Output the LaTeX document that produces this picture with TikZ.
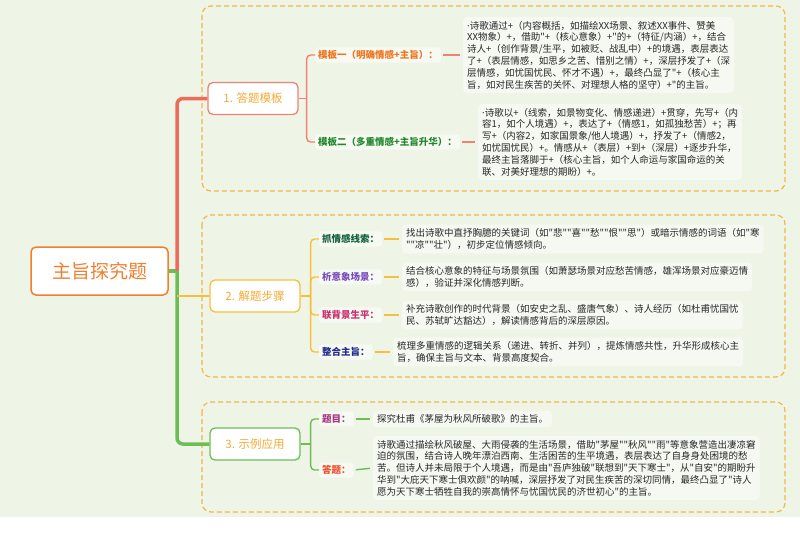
\documentclass[tikz,border=0pt]{standalone}
\usepackage{fontspec}
\setmainfont{Noto Sans CJK SC}[Ligatures=TeXOff]
\newfontfamily\latinfont{Noto Sans}
\usepackage{tikz}
\usetikzlibrary{positioning,calc}
\definecolor{paper}{RGB}{238,245,230}
\definecolor{rust}{RGB}{240,128,48}
\definecolor{coral}{RGB}{240,106,90}
\definecolor{salmon}{RGB}{240,130,115}
\definecolor{sun}{RGB}{246,192,62}
\definecolor{leaf}{RGB}{108,190,84}
\definecolor{gold}{RGB}{245,170,52}
\definecolor{frameor}{RGB}{245,182,72}
\definecolor{ink}{RGB}{40,40,40}
\definecolor{tagorange}{RGB}{240,115,30}
\definecolor{taggreen}{RGB}{35,135,45}
\definecolor{tagteal}{RGB}{20,95,60}
\definecolor{tagpurple}{RGB}{120,75,190}
\definecolor{tagpink}{RGB}{205,45,110}
\definecolor{tagnavy}{RGB}{35,45,140}
\definecolor{tagplum}{RGB}{165,55,130}
\definecolor{tagred}{RGB}{240,75,40}
\newcommand\notefont{\fontsize{9.5}{11.8}\selectfont}
\newcommand\dotmark{{\latinfont ·}}
\tikzset{
  rootbox/.style={draw=rust,line width=1.5pt,fill=white,rounded corners=5pt,
    minimum width=137pt,minimum height=48pt,text=rust,font=\fontsize{19}{22}\selectfont},
  branchbox/.style={draw=#1,line width=1.3pt,fill=white,rounded corners=5pt,
    minimum width=90pt,minimum height=32pt,text=gold,font=\fontsize{11.5}{14}\selectfont},
  tag/.style={fill=white,fill opacity=0.5,text opacity=1,rounded corners=3pt,inner sep=3pt,
    anchor=west,text=#1,font=\notefont\bfseries},
  note/.style={fill=white,fill opacity=0.45,text opacity=1,rounded corners=4pt,inner sep=4pt,
    anchor=west,align=left,text=ink,font=\notefont},
  frame/.style={draw=frameor,line width=1.2pt,dash pattern=on 5pt off 3pt,rounded corners=9pt},
  trunk/.style={draw=#1,line width=3.5pt,rounded corners=6pt},
  twig/.style={draw=#1,line width=1.4pt,rounded corners=4pt},
  link/.style={draw=#1,line width=1.4pt,shorten <=2pt,shorten >=3pt},
}

\begin{document}
\begin{tikzpicture}[x=1pt,y=-1pt]
  \useasboundingbox (0,0) rectangle (800,546);
  \fill[paper] (0,0) rectangle (800,517);
  \fill[white] (0,517) rectangle (800,546);
  \draw[frame] (202,6) rectangle (785,191);
  \draw[frame] (202,215) rectangle (785,377);
  \draw[frame] (202,402) rectangle (785,512);

  \node[rootbox] (root) at (99.5,271) {主旨探究题};
  \node[branchbox=salmon] (b1) at (253,98.5) {1. 答题模板};
  \node[branchbox=sun] (b2) at (255,296) {2. 解题步骤};
  \node[branchbox=leaf] (b3) at (255,444) {3. 示例应用};
  \coordinate (j) at (177,271);
  \draw[trunk=leaf] (root.east) -- (j);
  \draw[trunk=leaf] (j) |- (b3.west);
  \draw[trunk=coral] (j) |- (b1.west);
  \draw[twig=sun,line width=1.2pt] (j |- b2.west) -- (b2.west);

  % templates
  \node[tag=tagorange] (l11) at (315,55) {模板一（明确情感+主旨）：};
  \node[tag=taggreen] (l12) at (315,142) {模板二（多重情感+主旨升华）：};
  \node[note] (t11) at (463,55) {\dotmark 诗歌通过+（内容概括，如描绘XX场景、叙述XX事件、赞美\\
    XX物象）+，借助"+（核心意象）+"的+（特征/内涵）+，结合\\
    诗人+（创作背景/生平，如被贬、战乱中）+的境遇，表层表达\\
    了+（表层情感，如思乡之苦、惜别之情）+，深层抒发了+（深\\
    层情感，如忧国忧民、怀才不遇）+，最终凸显了"+（核心主\\
    旨，如对民生疾苦的关怀、对理想人格的坚守）+"的主旨。};
  \node[note] (t12) at (478,142) {\dotmark 诗歌以+（线索，如景物变化、情感递进）+贯穿，先写+（内\\
    容1，如个人境遇）+，表达了+（情感1，如孤独愁苦）+；再\\
    写+（内容2，如家国景象/他人境遇）+，抒发了+（情感2，\\
    如忧国忧民）+。情感从+（表层）+到+（深层）+逐步升华，\\
    最终主旨落脚于+（核心主旨，如个人命运与家国命运的关\\
    联、对美好理想的期盼）+。};
  \draw[twig=salmon] (b1.east) -- ++(8,0) coordinate (k1);
  \draw[twig=salmon] (k1) |- (l11.west);
  \draw[twig=salmon] (k1) |- (l12.west);
  \draw[link=salmon] (l11.east) -- (t11.west);
  \draw[link=salmon] (l12.east) -- (t12.west);

  % steps
  \draw[twig=sun] (b2.east) -- ++(10,0) coordinate (k2);
  \foreach \lab/\col/\y/\x/\txt [count=\i] in {
    抓情感线索：/tagteal/239/402/{找出诗歌中直抒胸臆的关键词（如"悲""喜""愁""恨""思"）或暗示情感的词语（如"寒\\""凉""壮"），初步定位情感倾向。},
    析意象场景：/tagpurple/277/402/{结合核心意象的特征与场景氛围（如萧瑟场景对应愁苦情感，雄浑场景对应豪迈情\\感），验证并深化情感判断。},
    联背景生平：/tagpink/315/402/{补充诗歌创作的时代背景（如安史之乱、盛唐气象）、诗人经历（如杜甫忧国忧\\民、苏轼旷达豁达），解读情感背后的深层原因。},
    整合主旨：/tagnavy/352/393/{梳理多重情感的逻辑关系（递进、转折、并列），提炼情感共性，升华形成核心主\\旨，确保主旨与文本、背景高度契合。}}
  {
    \node[tag=\col] (l2\i) at (319,\y) {\lab};
    \node[note] (t2\i) at (\x,\y) {\txt};
    \draw[twig=sun] (k2) |- (l2\i.west);
    \draw[link=sun] (l2\i.east) -- (t2\i.west);
  }

  % example
  \node[tag=tagplum] (l31) at (319,419) {题目：};
  \node[tag=tagred] (l32) at (319,470) {答题：};
  \node[note] (t31) at (373,419) {探究杜甫《茅屋为秋风所破歌》的主旨。};
  \node[note] (t32) at (373,468) {诗歌通过描绘秋风破屋、大雨侵袭的生活场景，借助"茅屋""秋风""雨"等意象营造出凄凉窘\\
    迫的氛围，结合诗人晚年漂泊西南、生活困苦的生平境遇，表层表达了自身身处困境的愁\\
    苦。但诗人并未局限于个人境遇，而是由"吾庐独破"联想到"天下寒士"，从"自安"的期盼升\\
    华到"大庇天下寒士俱欢颜"的呐喊，深层抒发了对民生疾苦的深切同情，最终凸显了"诗人\\
    愿为天下寒士牺牲自我的崇高情怀与忧国忧民的济世初心"的主旨。};
  \draw[twig=leaf] (b3.east) -- ++(10,0) coordinate (k3);
  \draw[twig=leaf] (k3) |- (l31.west);
  \draw[twig=leaf] (k3) |- (l32.west);
  \draw[link=leaf] (l31.east) -- (t31.west);
  \draw[link=leaf] (l32.east) -- (t32.west);
\end{tikzpicture}
\end{document}
